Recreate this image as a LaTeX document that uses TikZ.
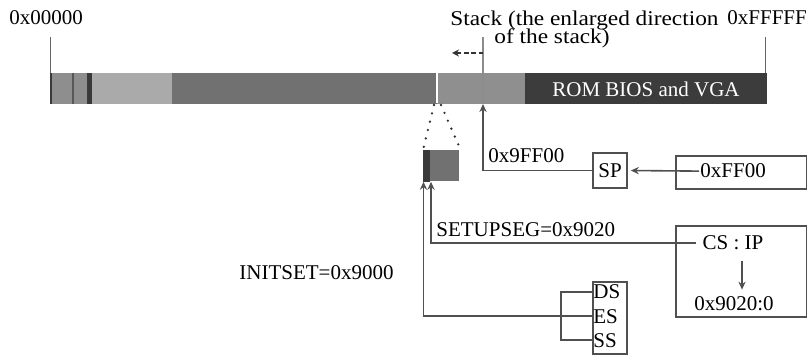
\documentclass[tikz,border=0pt]{standalone}
\usepackage{fontspec}
\setmainfont{Liberation Serif}
\newfontfamily\widerm[FakeStretch=1.11]{Liberation Serif}
\usetikzlibrary{arrows.meta,calc}
\definecolor{segA}{HTML}{8E8E8E}
\definecolor{segDark}{HTML}{3A3A3A}
\definecolor{segLight}{HTML}{AAAAAA}
\definecolor{segMain}{HTML}{717171}
\definecolor{segStack}{HTML}{8F8F8F}
\definecolor{romFill}{HTML}{3C3C3C}
\definecolor{wireCol}{HTML}{505050}
\begin{document}
\begin{tikzpicture}[x=0.5pt,y=-0.5pt,
  font=\fontsize{10.5}{12}\selectfont,
  wire/.style={draw=wireCol, line width=0.8pt},
  arr/.style={wire, -{Stealth[length=4pt,width=3.6pt]}},
  lbl/.style={inner sep=0pt},
  regbox/.style={draw=wireCol, line width=0.8pt, inner sep=0pt},
  tick/.style={draw=black!60, line width=0.5pt},
  dotline/.style={draw=black!80, line width=1.3pt, line cap=round, dash pattern=on 0pt off 4.3pt},
  growarrow/.style={draw=black!80, line width=0.9pt, dash pattern=on 2.2pt off 1.4pt,
    -{Stealth[length=3.5pt,width=3.5pt]}}]
\useasboundingbox (0,0) rectangle (807,357);

% memory map bar
\fill[segA] (50,73) rectangle (92,104);
\fill[segDark] (50,73) rectangle (52,104);
\fill[segDark!85] (71.5,73) rectangle (73.5,104);
\fill[segDark] (87,73) rectangle (92,104);
\fill[segLight] (92,73) rectangle (172,104);
\fill[segMain] (172,73) rectangle (437,104);
\fill[segStack] (437,73) rectangle (525,104);
\fill[romFill] (525,73) rectangle (767,104);
\draw[white, line width=1pt] (437,73.5) -- (437,103.5);
\node[lbl, text=white] (rom) at (646,89) {ROM BIOS and VGA};

% address ticks
\draw[tick] (50,37) -- (50,73);
\draw[tick] (765,37) -- (765,73);
\node[lbl, anchor=base] (lo) at (46,25) {0x00000};
\node[lbl, anchor=base west] (hi) at (727,25) {0xFFFFF};
\node[lbl, anchor=base west, font=\widerm\fontsize{10.5}{12}\selectfont] (stk1) at (450,26) {Stack (the enlarged direction};
\node[lbl, anchor=base west, font=\widerm\fontsize{10.5}{12}\selectfont] (stk2) at (494,44) {of the stack)};

% stack pointer marker and growth direction
\coordinate (stacktop) at (483,37);
\coordinate (stackptr) at (483,104);
\coordinate (growfrom) at (483,53);
\coordinate (growto) at (452,53);
\draw[draw=black!45, line width=0.6pt] (stacktop) -- (stackptr);
\draw[growarrow] (growfrom) -- (growto);

% enlarged loaded segment
\node[fill=segMain, minimum width=18pt, minimum height=15.5pt, inner sep=0pt,
      anchor=north west] (zoombox) at (423,150) {};
\fill[segDark] (zoombox.north west) rectangle ($(zoombox.south west)+(7,0)$);
\coordinate (gapL) at (434,105);
\coordinate (gapR) at (441,105);
\draw[dotline] (gapL) -- (zoombox.north west);
\draw[dotline] (gapR) -- ($(zoombox.north east)+(0,-2)$);
\coordinate (inL) at ($(zoombox.south west)+(0.5,0)$);
\coordinate (inR) at ($(zoombox.south west)+(8,0)$);

% SP chain
\node[lbl, anchor=base west] (sptext) at (488,163) {0x9FF00};
\node[regbox, minimum width=17pt, minimum height=17.5pt] (sp) at (610,170.5) {SP};
\node[regbox, minimum width=65.5pt, minimum height=16.5pt, anchor=north west] (ffbox) at (675,155) {};
\node[lbl, anchor=base west, inner sep=1.5pt] (ff00) at (697,178) {0xFF00};
\draw[arr] (sp.west) -| (stackptr);
\draw[arr, shorten >=1.5pt] ($(ff00.west)+(2,0)$) -- (sp.east);

% CS:IP chain
\node[regbox, minimum width=65.5pt, minimum height=45.5pt, anchor=north west] (csbox) at (675,225) {};
\node[lbl, anchor=base, inner sep=0pt] (csip) at (733,250) {CS : IP};
\node[lbl, anchor=base] (addr) at (734,310) {0x9020:0};
\node[lbl, anchor=base west] (setupseg) at (436,237) {SETUPSEG=0x9020};
\draw[arr] ($(csip.west)+(-6,0)$) -| (inR);
\draw[arr] ($(csip.south)+(9,10)$) -- ($(addr.north)+(8,-6)$);

% data segment registers
\node[regbox, minimum width=17pt, minimum height=36pt, anchor=north west] (segbox) at (592,281) {};
\node[lbl, anchor=base west] (ds) at (593,299) {DS};
\node[lbl, anchor=base west] (es) at (593,323) {ES};
\node[lbl, anchor=base west] (ss) at (593,347) {SS};
\draw[wire] (ds.west) -- ++(-32,0) |- (ss.west);
\draw[arr] (es.west) -| (inL);
\node[lbl, anchor=base west] (initset) at (239,280) {INITSET=0x9000};
\end{tikzpicture}
\end{document}
